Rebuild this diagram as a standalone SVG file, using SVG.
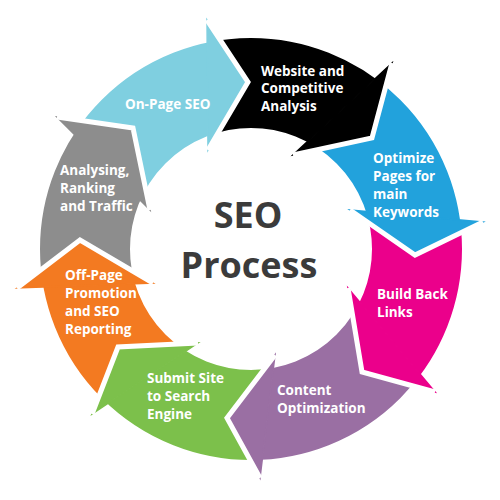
<svg xmlns="http://www.w3.org/2000/svg" width="500" height="500" viewBox="0 0 500 500">
<style>
.ring{fill:none;stroke-width:90}
.lbl{font-family:"Open Sans","Liberation Sans",sans-serif;font-weight:bold;font-size:13.5px;fill:#ffffff}
.ttl{font-family:"Open Sans","Liberation Sans",sans-serif;font-weight:bold;font-size:36px;fill:#3b3b3b;text-anchor:middle}
.gap{fill:none;stroke:#ffffff;stroke-width:5;stroke-linejoin:miter;stroke-miterlimit:10}
</style>
<defs>
<clipPath id="c-lb"><polygon points="251,249 150,210 133,128 57,117 82.8,-34.9 207,20 208,150"/></clipPath>
<clipPath id="c-bk"><polygon points="251,249 208,150 248,82 207,20 337.8,-69.4 392,63 293,155"/></clipPath>
<clipPath id="c-bl"><polygon points="251,249 293,155 372,138 392,63 541.8,93 483,222 350,210"/></clipPath>
<clipPath id="c-mg"><polygon points="251,249 350,210 415,255 483,222 566.6,345.5 435,392 348,288"/></clipPath>
<clipPath id="c-pu"><polygon points="251,249 348,288 362,372 435,392 390.5,548.1 260,478 275,355"/></clipPath>
<clipPath id="c-gr"><polygon points="251,249 275,355 227,418 260,478 122.9,553.1 92,414 198,343"/></clipPath>
<clipPath id="c-or"><polygon points="251,249 198,343 118,347 92,414 -48.8,386.9 17,288 153,283"/></clipPath>
<clipPath id="c-gy"><polygon points="251,249 153,283 80,240 17,288 -65.7,156.1 57,117 150,210"/></clipPath>
</defs>
<rect width="500" height="500" fill="#ffffff"/>
<g id="node-onpage">
<circle class="ring" cx="251" cy="249" r="166" stroke="#7fcfe0" clip-path="url(#c-lb)"/>
<polygon points="207,20 248,82 208,150" fill="#7fcfe0" stroke="#7fcfe0" stroke-width="1.5"/>
<text class="lbl" x="125" y="109">On-Page SEO</text>
</g>
<g id="node-website">
<circle class="ring" cx="251" cy="249" r="166" stroke="#000000" clip-path="url(#c-bk)"/>
<polygon points="392,63 372,138 293,155" fill="#000000" stroke="#000000" stroke-width="1.5"/>
<text class="lbl" x="261" y="75.5">Website and<tspan x="261" dy="17.7">Competitive</tspan><tspan x="261" dy="17.7">Analysis</tspan></text>
</g>
<g id="node-optimize">
<circle class="ring" cx="251" cy="249" r="166" stroke="#22a2dc" clip-path="url(#c-bl)"/>
<polygon points="483,222 415,255 350,210" fill="#22a2dc" stroke="#22a2dc" stroke-width="1.5"/>
<text class="lbl" x="373" y="163">Optimize<tspan x="373" dy="18">Pages for</tspan><tspan x="373" dy="18">main</tspan><tspan x="373" dy="18">Keywords</tspan></text>
</g>
<g id="node-backlinks">
<circle class="ring" cx="251" cy="249" r="166" stroke="#eb008b" clip-path="url(#c-mg)"/>
<polygon points="435,392 362,372 348,288" fill="#eb008b" stroke="#eb008b" stroke-width="1.5"/>
<text class="lbl" x="377" y="299">Build Back<tspan x="377" dy="18">Links</tspan></text>
</g>
<g id="node-content">
<circle class="ring" cx="251" cy="249" r="166" stroke="#9a6fa3" clip-path="url(#c-pu)"/>
<polygon points="260,478 227,418 275,355" fill="#9a6fa3" stroke="#9a6fa3" stroke-width="1.5"/>
<text class="lbl" x="277" y="395">Content<tspan x="277" dy="18">Optimization</tspan></text>
</g>
<g id="node-submit">
<circle class="ring" cx="251" cy="249" r="166" stroke="#7cc04b" clip-path="url(#c-gr)"/>
<polygon points="92,414 118,347 198,343" fill="#7cc04b" stroke="#7cc04b" stroke-width="1.5"/>
<text class="lbl" x="147" y="383">Submit Site<tspan x="147" dy="18">to Search</tspan><tspan x="147" dy="18">Engine</tspan></text>
</g>
<g id="node-offpage">
<circle class="ring" cx="251" cy="249" r="166" stroke="#f37a21" clip-path="url(#c-or)"/>
<polygon points="17,288 80,240 153,283" fill="#f37a21" stroke="#f37a21" stroke-width="1.5"/>
<text class="lbl" x="65" y="280">Off-Page<tspan x="65" dy="18">Promotion</tspan><tspan x="65" dy="18">and SEO</tspan><tspan x="65" dy="18">Reporting</tspan></text>
</g>
<g id="node-analysing">
<circle class="ring" cx="251" cy="249" r="166" stroke="#8d8d8d" clip-path="url(#c-gy)"/>
<polygon points="57,117 133,128 150,210" fill="#8d8d8d" stroke="#8d8d8d" stroke-width="1.5"/>
<text class="lbl" x="60" y="175">Analysing,<tspan x="60" dy="18">Ranking</tspan><tspan x="60" dy="18">and Traffic</tspan></text>
</g>
<g id="connectors">
<polyline class="gap" points="207,20 248,82 208,150"/>
<polyline class="gap" points="392,63 372,138 293,155"/>
<polyline class="gap" points="483,222 415,255 350,210"/>
<polyline class="gap" points="435,392 362,372 348,288"/>
<polyline class="gap" points="260,478 227,418 275,355"/>
<polyline class="gap" points="92,414 118,347 198,343"/>
<polyline class="gap" points="17,288 80,240 153,283"/>
<polyline class="gap" points="57,117 133,128 150,210"/>
</g>
<g id="title">
<text class="ttl" x="248" y="228">SEO</text>
<text class="ttl" x="249" y="278">Process</text>
</g>
</svg>
